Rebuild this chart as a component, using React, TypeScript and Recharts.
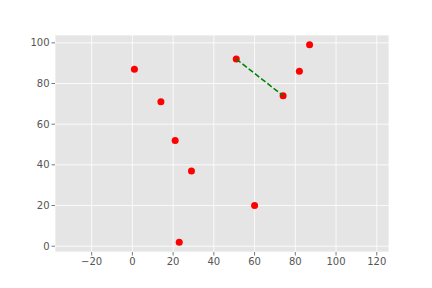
import { ScatterChart, Scatter, XAxis, YAxis, CartesianGrid } from "recharts";

const xs = [1, 14, 21, 29, 23, 51, 74, 82, 87, 60];
const ys = [87, 71, 52, 37, 2, 92, 74, 86, 99, 20];

const lineXs = [51, 74];
const lineYs = [92, 74];

const xTicks = [-20, 0, 20, 40, 60, 80, 100, 120];
const yTicks = [0, 20, 40, 60, 80, 100];

const points = xs.map((x, i) => ({ x, y: ys[i] }));
const segment = lineXs.map((x, i) => ({ x, y: lineYs[i] }));

const fmt = (v: number) => String(v).replace("-", "\u2212");

const tickStyle = {
  fill: "#555555",
  fontSize: 10,
  fontFamily: "DejaVu Sans",
};

const Dot = (props: any) => {
  const { cx, cy } = props;
  return <circle cx={cx} cy={cy} r={3.5} fill="#ff0000" />;
};

export default function App() {
  return (
    <div style={{ position: "absolute", left: 0, top: 0, background: "#fff" }}>
      <ScatterChart
        width={432}
        height={288}
        margin={{ top: 35, right: 43, bottom: 0, left: 0 }}
      >
        <CartesianGrid
          fill="#E5E5E5"
          stroke="#ffffff"
          strokeWidth={0.8}
          strokeOpacity={1}
        />
        <XAxis
          type="number"
          dataKey="x"
          domain={[-38, 126]}
          ticks={xTicks}
          tickFormatter={fmt}
          allowDataOverflow
          height={36}
          axisLine={false}
          tickLine={{ stroke: "#555555", strokeWidth: 0.8 }}
          tickSize={3.5}
          tickMargin={2}
          tick={tickStyle}
        />
        <YAxis
          type="number"
          dataKey="y"
          domain={[-2.85, 103.85]}
          ticks={yTicks}
          allowDataOverflow
          width={55}
          axisLine={false}
          tickLine={{ stroke: "#555555", strokeWidth: 0.8 }}
          tickSize={3.5}
          tickMargin={2}
          tick={tickStyle}
        />
        <Scatter data={points} shape={<Dot />} isAnimationActive={false} />
        <Scatter
          data={segment}
          line={{ stroke: "#008000", strokeWidth: 1.5, strokeDasharray: "5.5 2.4" }}
          shape={() => <g />}
          isAnimationActive={false}
        />
      </ScatterChart>
    </div>
  );
}
